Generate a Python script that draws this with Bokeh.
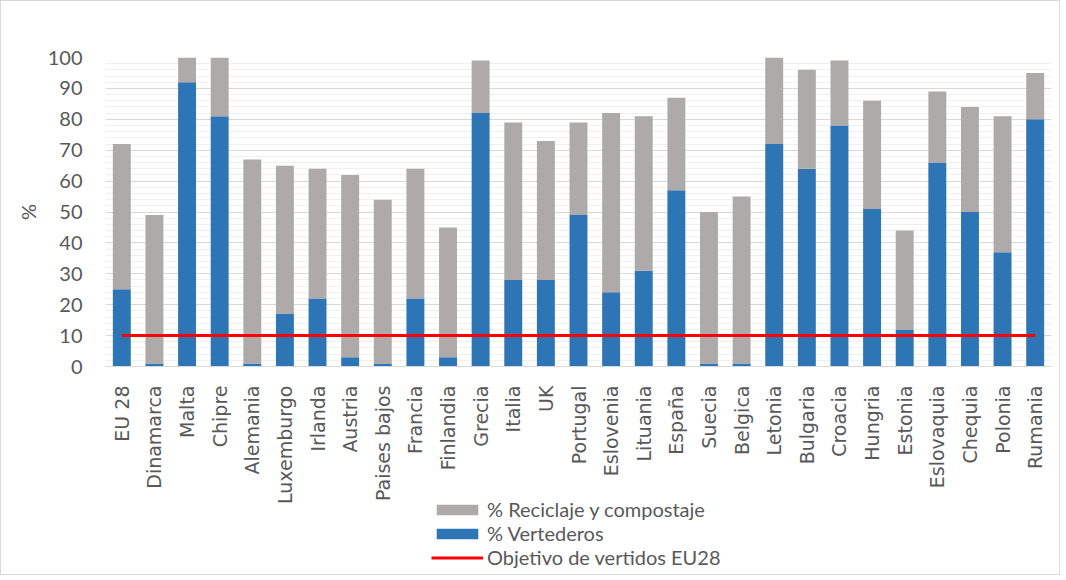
import math
from bokeh.plotting import figure
from bokeh.layouts import column
from bokeh.models import (ColumnDataSource, FactorRange, Range1d, Legend, LegendItem,
                          SingleIntervalTicker)
from bokeh.embed import file_html
from bokeh.resources import INLINE

paises = ["EU 28", "Dinamarca", "Malta", "Chipre", "Alemania", "Luxemburgo", "Irlanda",
          "Austria", "Paises bajos", "Francia", "Finlandia", "Grecia", "Italia", "UK",
          "Portugal", "Eslovenia", "Lituania", "España", "Suecia", "Belgica", "Letonia",
          "Bulgaria", "Croacia", "Hungria", "Estonia", "Eslovaquia", "Chequia", "Polonia",
          "Rumania"]
vertederos = [25, 1, 92, 81, 1, 17, 22, 3, 1, 22, 3, 82, 28, 28, 49, 24, 31, 57, 1, 1,
              72, 64, 78, 51, 12, 66, 50, 37, 80]
reciclaje = [47, 48, 8, 19, 66, 48, 42, 59, 53, 42, 42, 17, 51, 45, 30, 58, 50, 30, 49, 54,
             28, 32, 21, 35, 32, 23, 34, 44, 15]
objetivo_eu28 = 10
series = ["% Reciclaje y compostaje", "% Vertederos", "Objetivo de vertidos EU28"]

TXT = "#595959"
BLUE, GRAY, RED = "#2E75B6", "#AEAAAA", "#FF0000"
src = ColumnDataSource(dict(pais=paises, vert=vertederos, rec=reciclaje,
                            obj=[objetivo_eu28] * len(paises)))

xr = FactorRange(*paises)
p = figure(x_range=xr, y_range=Range1d(0, 100),
           frame_width=946, frame_height=309,
           min_border_left=104, min_border_right=8, min_border_top=56, min_border_bottom=0,
           output_backend="svg", toolbar_location=None)

p.vbar_stack(["vert", "rec"], x="pais", width=0.55, source=src,
             color=[BLUE, GRAY], line_color=None)
p.line(x="pais", y="obj", source=src, line_color=RED, line_width=3)

p.outline_line_color = None
p.xgrid.grid_line_color = None
p.yaxis.ticker = SingleIntervalTicker(interval=10, num_minor_ticks=5)
p.ygrid.grid_line_color = "#D9D9D9"
p.ygrid.minor_grid_line_color = "#F0F0F0"

p.yaxis.axis_line_color = None
p.yaxis.major_tick_line_color = None
p.yaxis.minor_tick_line_color = None
p.yaxis.major_label_text_font = "Lato"
p.yaxis.major_label_text_font_size = "20px"
p.yaxis.major_label_text_color = TXT
p.yaxis.major_label_standoff = 17
p.yaxis.axis_label = "%"
p.yaxis.axis_label_text_font = "Lato"
p.yaxis.axis_label_text_font_style = "normal"
p.yaxis.axis_label_text_font_size = "20px"
p.yaxis.axis_label_text_color = TXT
p.yaxis.axis_label_standoff = 5

p.xaxis.axis_line_color = "#D9D9D9"
p.xaxis.major_tick_line_color = None
p.xaxis.minor_tick_line_color = None
p.xaxis.major_label_orientation = math.pi / 2
p.xaxis.major_label_text_font = "DejaVu Sans"
p.xaxis.major_label_text_font_size = "19px"
p.xaxis.major_label_text_color = TXT
p.xaxis.major_label_standoff = 13

# legend panel below the chart (glyphs drawn from the same data, out of view)
LG_H = 80
lg = figure(width=1058, height=LG_H, x_range=xr, y_range=Range1d(500, 600),
            x_axis_location=None, y_axis_location=None,
            min_border_left=0, min_border_right=0, min_border_top=0, min_border_bottom=0,
            output_backend="svg", toolbar_location=None, margin=(-12, 0, 0, 0))
lg.grid.grid_line_color = None
lg.outline_line_color = None
lg.background_fill_alpha = 0
lg.border_fill_alpha = 0
g = lg.vbar_stack(["vert", "rec"], x="pais", width=0.55, source=src,
                  color=[BLUE, GRAY], line_color=None)
g_obj = lg.line(x="pais", y="obj", source=src, line_color=RED, line_width=3)

legend = Legend(items=[LegendItem(label=series[0], renderers=[g[1]]),
                       LegendItem(label=series[1], renderers=[g[0]]),
                       LegendItem(label=series[2], renderers=[g_obj])],
                location=(326, LG_H - 72 - 3), orientation="vertical",
                label_text_font="Lato", label_text_font_size="20px", label_text_color=TXT,
                glyph_width=52, glyph_height=13, label_standoff=4, spacing=0,
                label_height=24, padding=0, margin=0,
                border_line_color=None, background_fill_alpha=0)
lg.add_layout(legend, "center")

layout = column(p, lg, spacing=0, styles={"border": "1px solid #D9D9D9"})

open("out.html", "w").write(file_html(layout, INLINE))
